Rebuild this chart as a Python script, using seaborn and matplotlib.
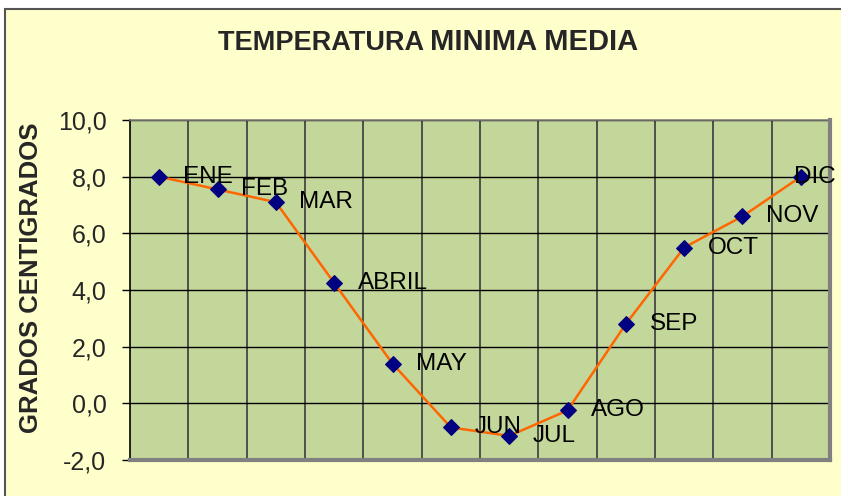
import numpy as np
import pandas as pd
import matplotlib
matplotlib.use('Agg')
import matplotlib.pyplot as plt
from matplotlib.ticker import FixedLocator, FuncFormatter
from matplotlib.patches import Rectangle
import seaborn as sns

# Data
meses = ['ENE', 'FEB', 'MAR', 'ABRIL', 'MAY', 'JUN', 'JUL', 'AGO', 'SEP', 'OCT', 'NOV', 'DIC']
temp_min = [8.0, 7.55, 7.1, 4.25, 1.4, -0.85, -1.15, -0.25, 2.8, 5.5, 6.6, 8.0]
y_ticks = [-2, 0, 2, 4, 6, 8, 10]

df = pd.DataFrame({'mes': meses, 'temp': temp_min})

sns.set_style('white')
plt.rcParams['font.family'] = ['Liberation Sans', 'DejaVu Sans']

fig = plt.figure(figsize=(8.41, 4.96), dpi=100)
fig.patch.set_facecolor('white')
# yellow chart area with a dark border on left/top
fig.patches.append(Rectangle((5 / 841, -0.1), 1, 1.1 - 9 / 496, transform=fig.transFigure,
                             facecolor='#FFFFCC', edgecolor='#555555', linewidth=1.5, zorder=-5))

ax = fig.add_axes([130 / 841, 1 - 460 / 496, 700 / 841, 340 / 496])
ax.set_facecolor('#C4D79B')

sns.lineplot(data=df, x='mes', y='temp', sort=False, ax=ax, color='#FF6600', linewidth=1.8,
             marker='D', markersize=8, markerfacecolor='#000080', markeredgecolor='#000080', zorder=3)

for i, (m, v) in enumerate(zip(meses, temp_min)):
    # last label gets pushed back inside the chart, over its point
    dx = -5 if i == len(meses) - 1 else 17
    ax.annotate(m, (i, v), xytext=(dx, 0), textcoords='offset points', va='center', ha='left',
                fontsize=17.5, color='black', zorder=4, annotation_clip=False)

ax.set_xlim(-0.5, 11.5)
ax.set_ylim(-2, 10)
ax.yaxis.set_major_locator(FixedLocator(y_ticks))
ax.yaxis.set_major_formatter(FuncFormatter(lambda v, p: f'{v:.1f}'.replace('.', ',')))
ax.xaxis.set_major_locator(FixedLocator([]))
ax.xaxis.set_minor_locator(FixedLocator(np.arange(0.5, 11.5, 1)))
ax.grid(True, axis='y', which='major', color='black', linewidth=1)
ax.grid(True, axis='x', which='minor', color='#3A3A3A', linewidth=1.2)
ax.tick_params(axis='y', which='major', direction='out', length=6, width=1, color='black',
               labelsize=18, pad=11, left=True)
ax.tick_params(axis='x', which='both', length=0, labelbottom=False)
ax.set_xlabel('')
ax.set_ylabel('GRADOS CENTIGRADOS', fontsize=18.5, fontweight='bold')
ax.yaxis.set_label_coords(-0.124, 0.535)

ax.spines['left'].set_color('black')
ax.spines['left'].set_linewidth(1.2)
ax.spines['top'].set_color('#808080')
ax.spines['top'].set_linewidth(1.2)
for s in ['right', 'bottom']:
    ax.spines[s].set_color('#808080')
    ax.spines[s].set_linewidth(3)

fig.text(0.5118, 1 - 50 / 496, 'TEMPERATURA ', ha='right', va='baseline', fontsize=19.5, fontweight='bold')
fig.text(0.5118, 1 - 50 / 496, 'MINIMA MEDIA', ha='left', va='baseline', fontsize=21, fontweight='bold')

plt.savefig('out.png', dpi=100, facecolor=fig.get_facecolor())
